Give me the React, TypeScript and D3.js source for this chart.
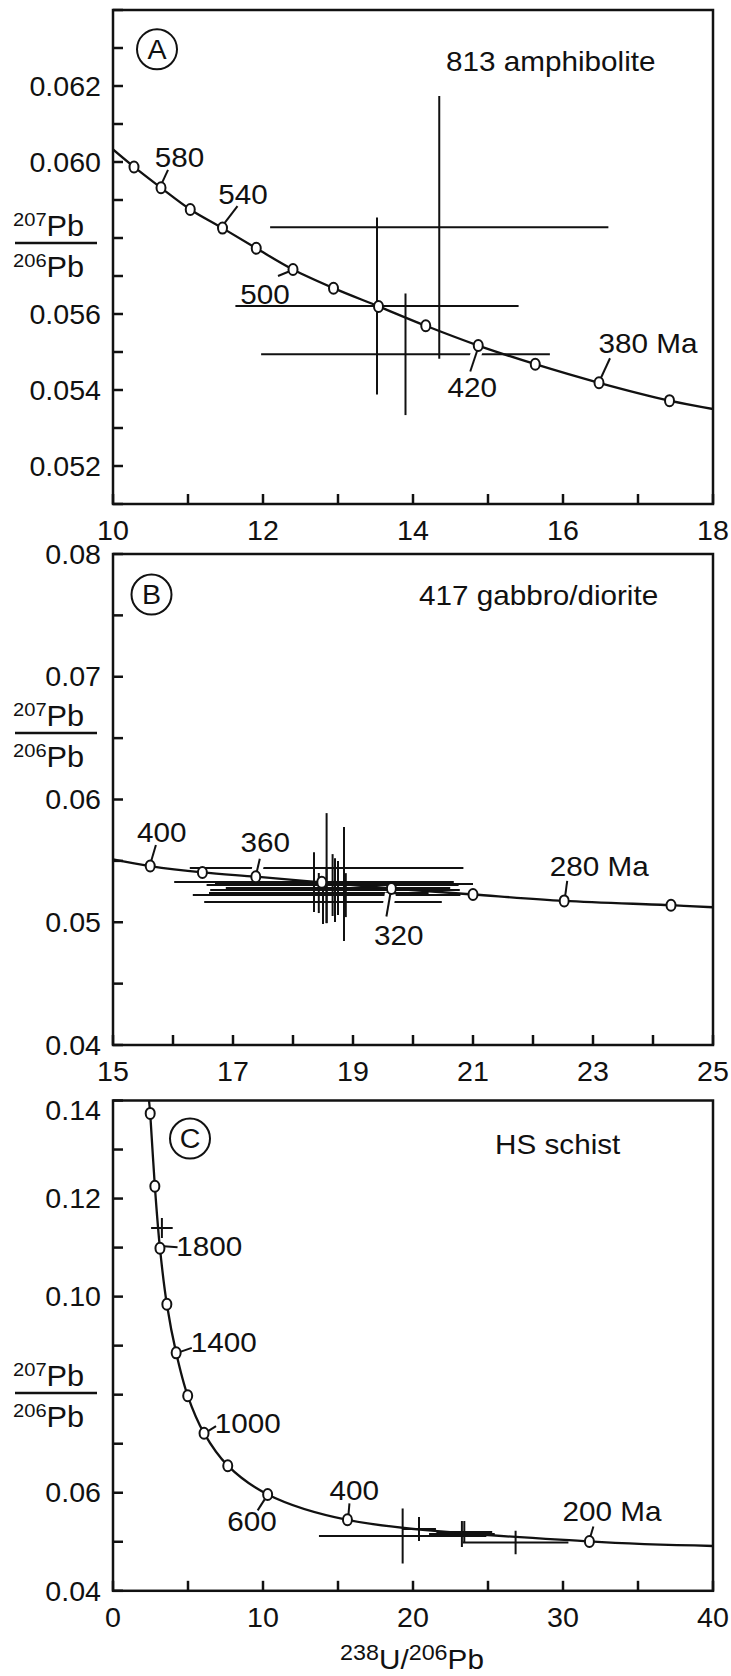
import * as React from "react"
import * as d3 from "d3"

const W = 731
const H = 1676
const FONT = "'Liberation Sans', Arial, Helvetica, sans-serif"
const SX = 1.06 // the source lettering is a touch wider than Arial

// ---- panel A : 813 amphibolite ----
const agesA = [600, 580, 560, 540, 520, 500, 480, 460, 440, 420, 400, 380, 360]
const uPbA = [10.28, 10.64, 11.03, 11.46, 11.91, 12.4, 12.94, 13.54, 14.17, 14.87, 15.63, 16.48, 17.42]
const pbPbA = [0.05987, 0.05932, 0.05875, 0.05826, 0.05773, 0.05717, 0.05668, 0.0562, 0.05569, 0.05517, 0.05468, 0.05419, 0.05372]
const curveEndsA = [[10, 0.06033], [18, 0.0535]]
const spotXA = [14.35, 13.52, 13.9]
const spotXErrA = [2.255, 1.888, 1.925]
const spotYA = [0.05828, 0.05621, 0.05494]
const spotYErrA = [0.00346, 0.00233, 0.0016]

// ---- panel B : 417 gabbro/diorite ----
const agesB = [400, 380, 360, 340, 320, 300, 280, 260]
const uPbB = [15.62, 16.49, 17.38, 18.48, 19.64, 21.0, 22.52, 24.3]
const pbPbB = [0.05458, 0.05406, 0.05371, 0.05325, 0.05275, 0.05226, 0.05174, 0.05139]
const curveEndsB = [[15, 0.05513], [25, 0.05122]]
const spotXB = [18.35, 18.56, 18.66, 18.7, 18.75, 18.85, 18.88, 18.56, 18.5, 18.43]
const spotXErrB = [2.33, 2.28, 2.1, 2.08, 1.87, 2.15, 1.58, 2.23, 1.98, 1.83]
const spotYB = [0.05327, 0.05441, 0.05303, 0.05262, 0.05279, 0.05311, 0.05221, 0.05221, 0.05164, 0.05238]
const spotYErrB = [0.00244, 0.00448, 0.00252, 0.0026, 0.0022, 0.00464, 0.00179, 0.00228, 0.00179, 0.00163]

// ---- panel C : HS schist ----
const agesC = [2200, 2000, 1800, 1600, 1400, 1200, 1000, 800, 600, 400, 200]
const uPbC = [2.48, 2.79, 3.13, 3.59, 4.21, 4.98, 6.07, 7.65, 10.31, 15.63, 31.76]
const pbPbC = [0.13737, 0.12251, 0.10987, 0.09844, 0.08853, 0.07977, 0.07215, 0.06552, 0.05966, 0.05448, 0.05006]
const curveEndsC = [[2.4, 0.14], [40, 0.04914]]
const spotXC = [3.26, 19.31, 20.4, 23.26, 23.42, 26.84]
const spotXErrC = [0.72, 5.58, 1.13, 2.19, 1.86, 3.52]
const spotYC = [0.114, 0.05118, 0.0526, 0.05158, 0.05199, 0.04985]
const spotYErrC = [0.00204, 0.00561, 0.00245, 0.00265, 0.00224, 0.00239]

// age annotations: text offset (tx, ty) and leader [x1, y1, x2, y2], relative to the marker
const notesA = [
  { age: 580, text: "580", tx: 18.5, ty: -21, l: [1, -5, 7, -18] },
  { age: 540, text: "540", tx: 20.5, ty: -24, l: [2, -5, 15, -22] },
  { age: 500, text: "500", tx: -28, ty: 34, l: [-4, 2, -15, 6.5] },
  { age: 420, text: "420", tx: -6, ty: 51, l: [-1, 5, -8, 26] },
  { age: 380, text: "380 Ma", tx: 49, ty: -30, l: [2, -5, 11, -24.5] },
]
const notesB = [
  { age: 400, text: "400", tx: 11.5, ty: -24.3, l: [1, -5, 5.7, -21] },
  { age: 360, text: "360", tx: 9.5, ty: -24.4, l: [1, -5, 4, -18] },
  { age: 320, text: "320", tx: 7.4, ty: 56.5, l: [-1, 5, -5, 28] },
  { age: 280, text: "280 Ma", tx: 35, ty: -25, l: [1, -5, 3, -20] },
]
const notesC = [
  { age: 1800, text: "1800", tx: 49.4, ty: 8, l: [4, -2, 17.6, -1] },
  { age: 1400, text: "1400", tx: 47.6, ty: -1.3, l: [4, -1, 15.6, -5] },
  { age: 1000, text: "1000", tx: 43.6, ty: 0, l: [4, -2, 12, -7] },
  { age: 600, text: "600", tx: -15.6, ty: 36.6, l: [-3, 5, -10, 16] },
  { age: 400, text: "400", tx: 6.8, ty: -19.5, l: [1, -5, 2, -16.5] },
  { age: 200, text: "200 Ma", tx: 22.5, ty: -20, l: [1, -5, 4, -15] },
]

const panels = [
  {
    id: "A", title: "813 amphibolite",
    frame: { left: 113, right: 713, top: 10, bottom: 504 },
    xDomain: [10, 18], yDomain: [0.051, 0.064],
    xTicks: d3.range(10, 19), xLabels: [10, 12, 14, 16, 18],
    yTicks: d3.range(51, 65).map(i => i / 1000), yLabels: [0.052, 0.054, 0.056, 0.06, 0.062],
    yFmt: d3.format(".3f"), topShift: 0,
    ages: agesA, cx: uPbA, cy: pbPbA, ends: curveEndsA,
    sx: spotXA, sxe: spotXErrA, sy: spotYA, sye: spotYErrA, notes: notesA,
    badge: [157, 49.3], titlePos: [446, 71], fracY: 243,
  },
  {
    id: "B", title: "417 gabbro/diorite",
    frame: { left: 113, right: 713, top: 554, bottom: 1045 },
    xDomain: [15, 25], yDomain: [0.04, 0.08],
    xTicks: d3.range(15, 26), xLabels: [15, 17, 19, 21, 23, 25],
    yTicks: d3.range(8, 17).map(i => i * 0.005), yLabels: [0.04, 0.05, 0.06, 0.07, 0.08],
    yFmt: d3.format(".2f"), topShift: 0,
    ages: agesB, cx: uPbB, cy: pbPbB, ends: curveEndsB,
    sx: spotXB, sxe: spotXErrB, sy: spotYB, sye: spotYErrB, notes: notesB,
    badge: [151.5, 594.6], titlePos: [419, 605], fracY: 733,
  },
  {
    id: "C", title: "HS schist",
    frame: { left: 113, right: 713, top: 1100.5, bottom: 1590.8 },
    xDomain: [0, 40], yDomain: [0.04, 0.14],
    xTicks: d3.range(0, 41, 5), xLabels: [0, 10, 20, 30, 40],
    yTicks: d3.range(4, 15).map(i => i / 100), yLabels: [0.04, 0.06, 0.1, 0.12, 0.14],
    yFmt: d3.format(".2f"), topShift: 10,
    ages: agesC, cx: uPbC, cy: pbPbC, ends: curveEndsC,
    sx: spotXC, sxe: spotXErrC, sy: spotYC, sye: spotYErrC, notes: notesC,
    badge: [190, 1138.6], titlePos: [495, 1153.5], fracY: 1393,
  },
]

function T({ x, y, size = 27, anchor = "start", dy, children }: any) {
  return (
    <text
      transform={`translate(${x},${y}) scale(${SX},1)`}
      fontSize={size}
      textAnchor={anchor}
      dy={dy}
      fill="#111"
    >
      {children}
    </text>
  )
}

// isotope ratio label like  ²⁰⁷Pb, superscript as a smaller raised tspan
function Iso({ x, y, mass, el, size = 29, supSize = 19, anchor = "start" }: any) {
  return (
    <T x={x} y={y} size={size} anchor={anchor}>
      <tspan fontSize={supSize} dy={-10}>{mass}</tspan>
      <tspan dy={10}>{el}</tspan>
    </T>
  )
}

function Panel({ p }: any) {
  const { left, right, top, bottom } = p.frame
  const x = d3.scaleLinear().domain(p.xDomain).range([left, right])
  const y = d3.scaleLinear().domain(p.yDomain).range([bottom, top])

  const pts: [number, number][] = [
    p.ends[0],
    ...p.cx.map((v: number, i: number) => [v, p.cy[i]]),
    p.ends[1],
  ]
  const line = d3
    .line<[number, number]>()
    .x(d => x(d[0]))
    .y(d => y(d[1]))
    .curve(d3.curveCatmullRom.alpha(0.5))

  const clipId = `clip-${p.id}`
  const marker = (age: number) => {
    const i = p.ages.indexOf(age)
    return [x(p.cx[i]), y(p.cy[i])]
  }

  return (
    <g>
      <defs>
        <clipPath id={clipId}>
          <rect x={left} y={top} width={right - left} height={bottom - top} />
        </clipPath>
      </defs>

      {/* ticks, pointing inward */}
      {p.xTicks.map((t: number) => (
        <line key={"xt" + t} x1={x(t)} x2={x(t)} y1={bottom} y2={bottom - 10} stroke="#111" strokeWidth={2.5} />
      ))}
      {p.yTicks.map((t: number) => (
        <line key={"yt" + t} x1={left} x2={left + 10} y1={y(t)} y2={y(t)} stroke="#111" strokeWidth={2.5} />
      ))}

      {/* tick labels */}
      {p.xLabels.map((t: number) => (
        <T key={"xl" + t} x={x(t)} y={bottom + 36} anchor="middle">{t}</T>
      ))}
      {p.yLabels.map((t: number) => {
        const yy = y(t) + (Math.abs(t - p.yDomain[1]) < 1e-9 ? p.topShift : 0)
        return (
          <T key={"yl" + t} x={101} y={yy} anchor="end" dy="0.36em">{p.yFmt(t)}</T>
        )
      })}

      <g clipPath={`url(#${clipId})`}>
        {/* error crosses */}
        {p.sx.map((v: number, i: number) => (
          <g key={"s" + i} stroke="#111" strokeWidth={2}>
            <line x1={x(v - p.sxe[i])} x2={x(v + p.sxe[i])} y1={y(p.sy[i])} y2={y(p.sy[i])} />
            <line x1={x(v)} x2={x(v)} y1={y(p.sy[i] - p.sye[i])} y2={y(p.sy[i] + p.sye[i])} />
          </g>
        ))}

        {/* white halos behind the age leaders */}
        {p.notes.map((n: any) => {
          const [mx, my] = marker(n.age)
          return (
            <line key={"h" + n.age} x1={mx + n.l[0]} y1={my + n.l[1]} x2={mx + n.l[2]} y2={my + n.l[3]}
              stroke="#fff" strokeWidth={11} />
          )
        })}

        {/* concordia */}
        <path d={line(pts) || ""} fill="none" stroke="#111" strokeWidth={2.3} />
      </g>

      {/* leaders and age markers */}
      {p.notes.map((n: any) => {
        const [mx, my] = marker(n.age)
        return (
          <g key={"n" + n.age}>
            <line x1={mx + n.l[0]} y1={my + n.l[1]} x2={mx + n.l[2]} y2={my + n.l[3]} stroke="#111" strokeWidth={2} />
            <T x={mx + n.tx} y={my + n.ty} size={28} anchor="middle">{n.text}</T>
          </g>
        )
      })}
      {p.ages.map((a: number, i: number) => (
        <ellipse key={"m" + a} cx={x(p.cx[i])} cy={y(p.cy[i])} rx={4.5} ry={5.5} fill="#fff" stroke="#111" strokeWidth={2} />
      ))}

      {/* frame */}
      <rect x={left} y={top} width={right - left} height={bottom - top} fill="none" stroke="#111" strokeWidth={2.5} />

      {/* panel badge and sample name */}
      <circle cx={p.badge[0]} cy={p.badge[1]} r={20} fill="none" stroke="#111" strokeWidth={2} />
      <T x={p.badge[0]} y={p.badge[1]} size={27} anchor="middle" dy="0.36em">{p.id}</T>
      <T x={p.titlePos[0]} y={p.titlePos[1]} size={28}>{p.title}</T>

      {/* 207Pb / 206Pb */}
      <Iso x={13} y={p.fracY - 7} mass="207" el="Pb" />
      <line x1={15} x2={97} y1={p.fracY} y2={p.fracY} stroke="#111" strokeWidth={2.5} />
      <Iso x={13} y={p.fracY + 33.7} mass="206" el="Pb" />
    </g>
  )
}

export default function App() {
  return (
    <svg
      width={W}
      height={H}
      viewBox={`0 0 ${W} ${H}`}
      style={{ position: "absolute", left: 0, top: 0, background: "#fff" }}
      fontFamily={FONT}
    >
      <rect width={W} height={H} fill="#fff" />
      {panels.map(p => (
        <Panel key={p.id} p={p} />
      ))}
      <text transform={`translate(412,1669) scale(${SX},1)`} textAnchor="middle" fontSize={28} fill="#111">
        <tspan fontSize={22} dy={-9}>238</tspan>
        <tspan dy={9}>U/</tspan>
        <tspan fontSize={22} dy={-9}>206</tspan>
        <tspan dy={9}>Pb</tspan>
      </text>
    </svg>
  )
}
